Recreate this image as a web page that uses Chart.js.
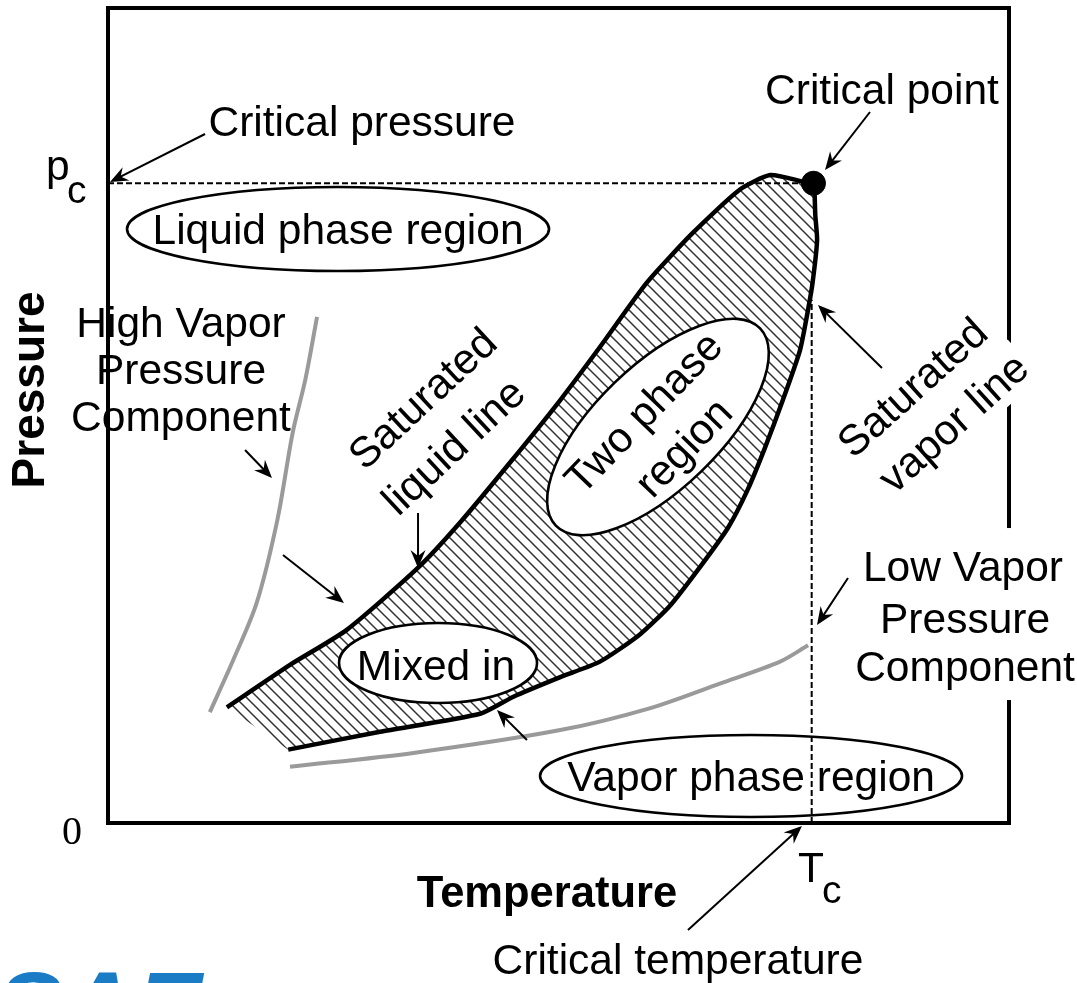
<!DOCTYPE html>
<html>
<head>
<meta charset="utf-8">
<title>Phase diagram</title>
<script src="https://cdn.jsdelivr.net/npm/chart.js@4.4.0/dist/chart.umd.min.js"></script>
<style>
  html, body { margin: 0; padding: 0; background: #fff; }
  #wrap { width: 1077px; height: 983px; }
</style>
</head>
<body>
<div id="wrap"><canvas id="phase" width="1077" height="983"></canvas></div>
<script>
// arbitrary units, 0..100 on both axes (frame corner = 0,0)
const satLiquid = [
  [13.2, 14.2], [20.2, 19.4], [26.5, 23.7], [34.3, 31.2], [39.1, 36.9],
  [44.6, 44.2], [50.2, 51.9], [54.6, 58.4], [59.8, 66.3], [64.9, 72.4],
  [70.1, 77.7], [73.5, 79.5], [77.1, 78.7], [78.4, 78.4]
];
// runs from the critical point back down to the low end
const satVapor = [
  [78.4, 78.4], [78.5, 74.6], [78.7, 71.5], [78.2, 66.3], [77.7, 63.0],
  [76.8, 58.0], [74.9, 51.9], [72.9, 46.0], [71.0, 40.9], [68.8, 36.2],
  [65.7, 31.4], [62.4, 26.7], [59.0, 23.1], [54.6, 19.8], [50.2, 17.9],
  [45.0, 15.5], [41.3, 13.4], [30.2, 11.2], [20.0, 9.0]
];
const highVPComponent = [
  [11.3, 13.6], [13.9, 20.0], [16.5, 27.0], [18.8, 37.2], [20.5, 47.9],
  [21.9, 54.4], [23.2, 62.1]
];
const lowVPComponent = [
  [20.2, 6.9], [33.9, 8.6], [50.2, 11.4], [60.2, 14.1], [67.9, 17.1],
  [74.6, 19.8], [77.7, 21.8]
];
const criticalT = 78.3;
const criticalP = 78.5;
const pcLineEnd = 77.1;   // dashed p_c line stops at the dome
const tcLineTop = 64.2;   // dashed T_c line starts on the vapor line

const toPts = arr => arr.map(([x, y]) => ({ x, y }));
const FONT = '"Liberation Sans", Arial, sans-serif';
const SIZE = 42.5;

const canvas = document.getElementById('phase');

function hatch() {
  const c = document.createElement('canvas');
  c.width = 11; c.height = 11;
  const g = c.getContext('2d');
  g.strokeStyle = '#333';
  g.lineWidth = 1.5;
  g.beginPath();
  g.moveTo(-2, -2); g.lineTo(13, 13);
  g.moveTo(-2, 9); g.lineTo(2, 13);
  g.moveTo(9, -2); g.lineTo(13, 2);
  g.stroke();
  return canvas.getContext('2d').createPattern(c, 'repeat');
}

// labels, bubbles and arrows, placed in data units
const bubbles = [
  { x: 25.53, y: 72.88, rx: 211, ry: 42, rot: 0, white: true },
  { x: 61.04, y: 48.59, rx: 142, ry: 62, rot: 44, white: true },
  { x: 36.63, y: 19.63, rx: 99, ry: 40, rot: 0, white: true },
  { x: 71.37, y: 5.77, rx: 211, ry: 41, rot: 0, white: false }
];
const labels = [
  { t: 'Critical pressure', x: 28.19, y: 86.13 },
  { t: 'Critical point', x: 85.90, y: 90.06 },
  { t: 'Liquid phase region', x: 25.53, y: 72.88 },
  { t: 'High Vapor', x: 8.10, y: 61.47 },
  { t: 'Pressure', x: 8.10, y: 55.71 },
  { t: 'Component', x: 8.10, y: 49.94 },
  { t: 'Saturated', x: 34.85, y: 52.15, rot: 43 },
  { t: 'liquid line', x: 38.29, y: 46.26, rot: 43 },
  { t: 'Two phase', x: 59.38, y: 50.43, rot: 46 },
  { t: 'region', x: 63.82, y: 46.13, rot: 46 },
  { t: 'Saturated', x: 89.23, y: 53.50, rot: 42 },
  { t: 'vapor line', x: 93.78, y: 49.15, rot: 42, bg: true },
  { t: 'Low Vapor', x: 94.89, y: 31.53 },
  { t: 'Pressure', x: 95.12, y: 25.15 },
  { t: 'Component', x: 95.12, y: 19.26 },
  { t: 'Mixed in', x: 36.40, y: 19.39 },
  { t: 'Vapor phase region', x: 71.37, y: 5.77 },
  { t: 'Temperature', x: 48.72, y: -8.47, bold: 43.5 },
  { t: 'Critical temperature', x: 63.26, y: -16.69 },
  { t: 'Pressure', x: -8.88, y: 53.13, bold: 46, rot: 90 }
];
const arrows = [
  [10.77, 84.54, 0.22, 78.65],
  [84.57, 87.24, 79.58, 80.12],
  [15.21, 45.77, 18.20, 42.33],
  [19.42, 32.88, 26.19, 26.99],
  [34.41, 38.04, 34.41, 31.29],
  [85.90, 55.83, 78.80, 63.56],
  [82.13, 30.06, 78.69, 24.29],
  [46.50, 10.18, 43.17, 13.87],
  [64.37, -13.13, 77.02, -0.37]
];

const decor = {
  id: 'decor',
  beforeDatasetsDraw(chart) {
    const { ctx, chartArea: a } = chart;
    ctx.save();
    ctx.lineWidth = 4;
    ctx.strokeStyle = '#000';
    ctx.strokeRect(a.left, a.top, a.right - a.left, a.bottom - a.top);
    ctx.restore();
  },
  afterDatasetsDraw(chart) {
    const { ctx } = chart;
    const X = v => chart.scales.x.getPixelForValue(v);
    const Y = v => chart.scales.y.getPixelForValue(v);
    ctx.save();

    // white box behind the Low Vapor Pressure Component block (it cuts the frame)
    ctx.font = SIZE + 'px ' + FONT;
    const w = ctx.measureText('Component').width;
    ctx.fillStyle = '#fff';
    ctx.fillRect(X(95.12) - w / 2 - 10, Y(31.53) - 38, w + 20, Y(19.26) - Y(31.53) + 72);

    bubbles.forEach(b => {
      ctx.save();
      ctx.translate(X(b.x), Y(b.y));
      ctx.rotate(-b.rot * Math.PI / 180);
      ctx.beginPath();
      ctx.ellipse(0, 0, b.rx, b.ry, 0, 0, Math.PI * 2);
      if (b.white) { ctx.fillStyle = '#fff'; ctx.fill(); }
      ctx.lineWidth = 2.6;
      ctx.strokeStyle = '#000';
      ctx.stroke();
      ctx.restore();
    });

    labels.forEach(l => {
      ctx.save();
      ctx.translate(X(l.x), Y(l.y));
      if (l.rot) ctx.rotate(-l.rot * Math.PI / 180);
      ctx.font = l.bold ? 'bold ' + l.bold + 'px ' + FONT : SIZE + 'px ' + FONT;
      ctx.textAlign = 'center';
      ctx.textBaseline = 'middle';
      if (l.bg) {
        const tw = ctx.measureText(l.t).width;
        ctx.fillStyle = '#fff';
        ctx.fillRect(-tw / 2 - 4, -25, tw + 8, 50);
      }
      ctx.fillStyle = '#000';
      ctx.fillText(l.t, 0, 3);
      ctx.restore();
    });

    // axis marks: p_c, T_c, 0
    ctx.fillStyle = '#000';
    ctx.textAlign = 'left';
    ctx.textBaseline = 'alphabetic';
    ctx.font = SIZE + 'px ' + FONT;
    ctx.fillText('p', X(-6.88), Y(78.90));
    ctx.fillText('T', X(76.58), Y(-7.24));
    ctx.font = '39px ' + FONT;
    ctx.fillText('c', X(-4.55), Y(76.07));
    ctx.fillText('c', X(79.24), Y(-9.82));
    ctx.font = '40px "Liberation Serif", "Times New Roman", serif';
    ctx.textAlign = 'center';
    ctx.textBaseline = 'middle';
    ctx.fillText('0', X(-4.0), Y(-1.23));

    arrows.forEach(([x1, y1, x2, y2]) => {
      const ax = X(x1), ay = Y(y1), bx = X(x2), by = Y(y2);
      const ang = Math.atan2(by - ay, bx - ax);
      ctx.save();
      ctx.strokeStyle = '#000';
      ctx.lineWidth = 2;
      ctx.beginPath();
      ctx.moveTo(ax, ay);
      ctx.lineTo(bx - 8 * Math.cos(ang), by - 8 * Math.sin(ang));
      ctx.stroke();
      ctx.translate(bx, by);
      ctx.rotate(ang);
      ctx.beginPath();
      ctx.moveTo(0, 0);
      ctx.lineTo(-18, -7.5);
      ctx.lineTo(-12, 0);
      ctx.lineTo(-18, 7.5);
      ctx.closePath();
      ctx.fillStyle = '#000';
      ctx.fill();
      ctx.restore();
    });

    // the logo fragment cut by the bottom edge
    ctx.font = 'italic bold 100px ' + FONT;
    ctx.fillStyle = '#1b7cc6';
    ctx.textAlign = 'left';
    ctx.textBaseline = 'alphabetic';
    ctx.fillText('SAE', -4, 1042);
    ctx.restore();
  }
};

const thin = { showLine: true, pointRadius: 0, pointHoverRadius: 0, fill: false };

new Chart(canvas, {
  type: 'scatter',
  data: {
    datasets: [
      { label: 'Critical point', data: [{ x: criticalT, y: criticalP }],
        pointRadius: 12, pointBackgroundColor: '#000', pointBorderColor: '#000', showLine: false },
      { ...thin, label: 'Saturated liquid line', data: toPts(satLiquid),
        borderColor: '#000', borderWidth: 4.5, tension: 0.2 },
      { ...thin, label: 'Saturated vapor line', data: toPts(satVapor),
        borderColor: '#000', borderWidth: 4.5, tension: 0.2 },
      { ...thin, label: 'p_c', data: [{ x: 0, y: criticalP }, { x: pcLineEnd, y: criticalP }],
        borderColor: '#000', borderWidth: 2, borderDash: [6, 3] },
      { ...thin, label: 'T_c', data: [{ x: criticalT - 0.2, y: 0 }, { x: criticalT - 0.2, y: tcLineTop }],
        borderColor: '#000', borderWidth: 2, borderDash: [6, 3] },
      { ...thin, label: 'High Vapor Pressure Component', data: toPts(highVPComponent),
        borderColor: '#9a9a9a', borderWidth: 4, tension: 0.3 },
      { ...thin, label: 'Low Vapor Pressure Component', data: toPts(lowVPComponent),
        borderColor: '#9a9a9a', borderWidth: 4, tension: 0.3 },
      { ...thin, label: 'Two phase region', data: toPts(satLiquid.concat(satVapor.slice(1))),
        borderColor: '#999', borderWidth: 1, tension: 0.2,
        backgroundColor: hatch(), fill: 'shape' }
    ]
  },
  options: {
    responsive: false,
    animation: false,
    devicePixelRatio: 1,
    layout: { autoPadding: false, padding: { left: 108, right: 68, top: 8, bottom: 160 } },
    scales: {
      x: { type: 'linear', min: 0, max: 100, display: false },
      y: { type: 'linear', min: 0, max: 100, display: false }
    },
    plugins: { legend: { display: false }, tooltip: { enabled: false } }
  },
  plugins: [decor]
});
</script>
</body>
</html>
